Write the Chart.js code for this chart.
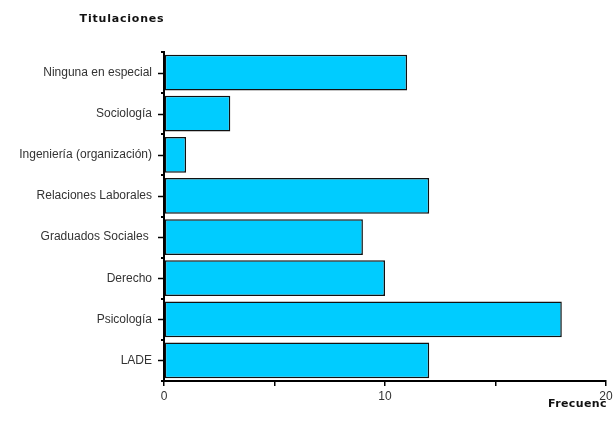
<!DOCTYPE html>
<html>
<head>
<meta charset="utf-8">
<script src="https://cdn.jsdelivr.net/npm/chart.js@4.4.1/dist/chart.umd.min.js"></script>
<style>
  html, body { margin: 0; padding: 0; background: #fff; }
  #wrap { width: 613px; height: 426px; position: relative; }
</style>
</head>
<body>
<div id="wrap"><canvas id="chart"></canvas></div>
<script>
// titulaciones y frecuencias
const categorias = [
  "Ninguna en especial",
  "Sociología",
  "Ingeniería (organización)",
  "Relaciones Laborales",
  "Graduados Sociales ",
  "Derecho",
  "Psicología",
  "LADE"
];
const frecuencias = [11, 3, 1, 12, 9, 10, 18, 12];
const ticksX = [0, 10, 20];

const LABEL_FONT = { family: "'Liberation Sans', Arial, sans-serif", size: 12 };

// marcas del eje Y: largas en el centro de cada categoría, cortas en los límites
const marcasEjeY = {
  id: 'marcasEjeY',
  afterDraw(chart) {
    const ctx = chart.ctx;
    const y = chart.scales.y;
    const x0 = y.right;
    ctx.save();
    ctx.strokeStyle = '#000';
    ctx.lineWidth = 1.5;
    for (let i = 0; i < categorias.length; i++) {
      const py = Math.round(y.getPixelForValue(i)) + 0.5;
      ctx.beginPath();
      ctx.moveTo(x0 - 6, py);
      ctx.lineTo(x0, py);
      ctx.stroke();
    }
    ctx.lineWidth = 2;
    for (let i = 0; i <= categorias.length; i++) {
      const py = Math.round(y.getPixelForValue(i - 0.5));
      ctx.beginPath();
      ctx.moveTo(x0 - 3, py);
      ctx.lineTo(x0, py);
      ctx.stroke();
    }
    // títulos
    ctx.fillStyle = '#111';
    ctx.font = "bold 11px 'DejaVu Sans', sans-serif";
    ctx.textBaseline = 'middle';
    ctx.letterSpacing = '0.8px';
    ctx.textAlign = 'center';
    ctx.fillText('Titulaciones', 122, 19);
    ctx.letterSpacing = '0.4px';
    ctx.textAlign = 'right';
    ctx.fillText('Frecuenc', 607, 404);
    ctx.restore();
  }
};

new Chart(document.getElementById('chart'), {
  type: 'bar',
  data: {
    labels: categorias,
    datasets: [{
      data: frecuencias,
      backgroundColor: '#00ccff',
      borderColor: '#111',
      borderWidth: 1.5,
      borderSkipped: false,
      barPercentage: 0.87,
      categoryPercentage: 1
    }]
  },
  options: {
    indexAxis: 'y',
    responsive: true,
    maintainAspectRatio: false,
    animation: false,
    layout: { padding: { top: 52, right: 0, left: 0, bottom: 0 } },
    plugins: {
      legend: { display: false },
      tooltip: { enabled: false }
    },
    scales: {
      x: {
        min: 0,
        max: 20,
        afterFit(scale) {
          scale.height = 45;
          scale.paddingRight = 7;
        },
        border: { color: '#000', width: 2 },
        grid: { drawOnChartArea: false, color: '#000', lineWidth: 1.5, tickLength: 5 },
        ticks: {
          stepSize: 5,
          autoSkip: false,
          maxRotation: 0,
          color: '#333',
          font: LABEL_FONT,
          padding: 3,
          callback: v => ticksX.includes(v) ? String(v) : ''
        }
      },
      y: {
        afterFit(scale) { scale.width = 164; },
        border: { color: '#000', width: 2 },
        grid: { display: true, drawOnChartArea: false, drawTicks: false, color: 'rgba(0,0,0,0)' },
        ticks: {
          color: '#333',
          font: LABEL_FONT,
          padding: 12,
          autoSkip: false
        }
      }
    }
  },
  plugins: [marcasEjeY]
});
</script>
</body>
</html>
